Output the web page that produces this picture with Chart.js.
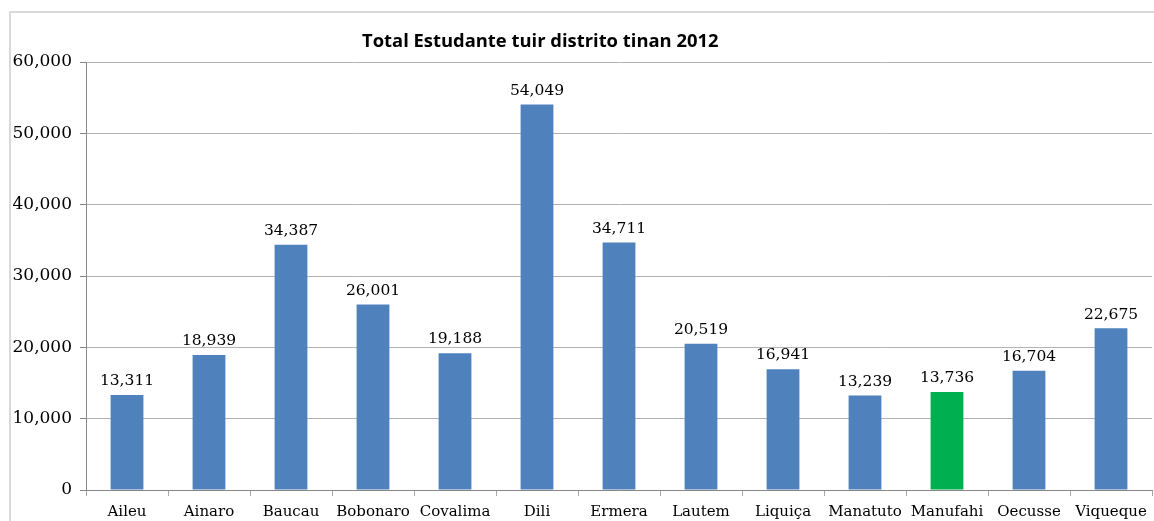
<!DOCTYPE html>
<html lang="tet">
<head>
  <meta charset="UTF-8" />
  <title>Total Estudante tuir distrito tinan 2012</title>
  <script src="https://cdn.jsdelivr.net/npm/chart.js"></script>
  <style>
    body {
      margin: 0;
      background: #fff;
      overflow: hidden;
    }

    .wrap {
      position: relative;
      width: 1154px;
      height: 521px;
      overflow: hidden;
    }

    .frame {
      position: absolute;
      left: 9px;
      top: 11px;
      right: -5px;
      bottom: -5px;
      border-top: 2px solid #d9d9d9;
      border-left: 2px solid #d9d9d9;
    }

    .title {
      position: absolute;
      left: 362px;
      top: 27px;
      font-family: "Open Sans", sans-serif;
      font-weight: bold;
      font-size: 18.4px;
      color: #000;
      white-space: nowrap;
    }

    canvas {
      position: absolute;
      left: 0;
      top: 0;
    }
  </style>
</head>
<body>
  <div class="wrap">
    <div class="frame"></div>
    <canvas id="chart" width="1154" height="521"></canvas>
    <div class="title">Total Estudante tuir distrito tinan 2012</div>
  </div>

  <script>
    // dadus
    const districts = ["Aileu", "Ainaro", "Baucau", "Bobonaro", "Covalima", "Dili", "Ermera",
      "Lautem", "Liquiça", "Manatuto", "Manufahi", "Oecusse", "Viqueque"];
    const students = [13311, 18939, 34387, 26001, 19188, 54049, 34711, 20519, 16941, 13239, 13736, 16704, 22675];
    const highlight = "Manufahi";

    const barColors = districts.map(d => d === highlight ? "#00B050" : "#4F81BD");
    const serif = "'DejaVu Serif', serif";

    // label valor iha leten barra
    const valueLabels = {
      id: "valueLabels",
      afterDatasetsDraw(chart) {
        const ctx = chart.ctx;
        const meta = chart.getDatasetMeta(0);
        ctx.save();
        ctx.font = "15.5px " + serif;
        ctx.fillStyle = "#000";
        ctx.textAlign = "center";
        ctx.textBaseline = "bottom";
        meta.data.forEach((bar, i) => {
          ctx.fillText(students[i].toLocaleString("en-US"), bar.x, bar.y - 6);
        });
        ctx.restore();
      }
    };

    new Chart(document.getElementById("chart"), {
      type: "bar",
      data: {
        labels: districts,
        datasets: [{
          data: students,
          backgroundColor: barColors,
          borderWidth: 0,
          categoryPercentage: 1,
          barPercentage: 0.4
        }]
      },
      options: {
        responsive: false,
        animation: false,
        layout: { padding: { top: 62, left: 10, right: 2, bottom: 0 } },
        plugins: {
          legend: { display: false },
          tooltip: { enabled: false }
        },
        scales: {
          x: {
            grid: {
              offset: true,
              drawOnChartArea: false,
              drawTicks: true,
              tickLength: 6,
              color: "#a6a6a6"
            },
            border: { color: "#868686", width: 1 },
            ticks: {
              color: "#000",
              font: { family: serif, size: 15 },
              padding: 7,
              maxRotation: 0,
              autoSkip: false
            },
            afterFit(scale) { scale.height = 31; }
          },
          y: {
            min: 0,
            max: 60000,
            ticks: {
              stepSize: 10000,
              color: "#000",
              font: { family: serif, size: 17 },
              padding: 8,
              callback: v => v.toLocaleString("en-US")
            },
            grid: {
              color: "#b3b3b3",
              tickLength: 6,
              tickColor: "#868686"
            },
            border: { color: "#868686", width: 1 },
            afterFit(scale) { scale.width = 76; }
          }
        }
      },
      plugins: [valueLabels]
    });
  </script>
</body>
</html>
